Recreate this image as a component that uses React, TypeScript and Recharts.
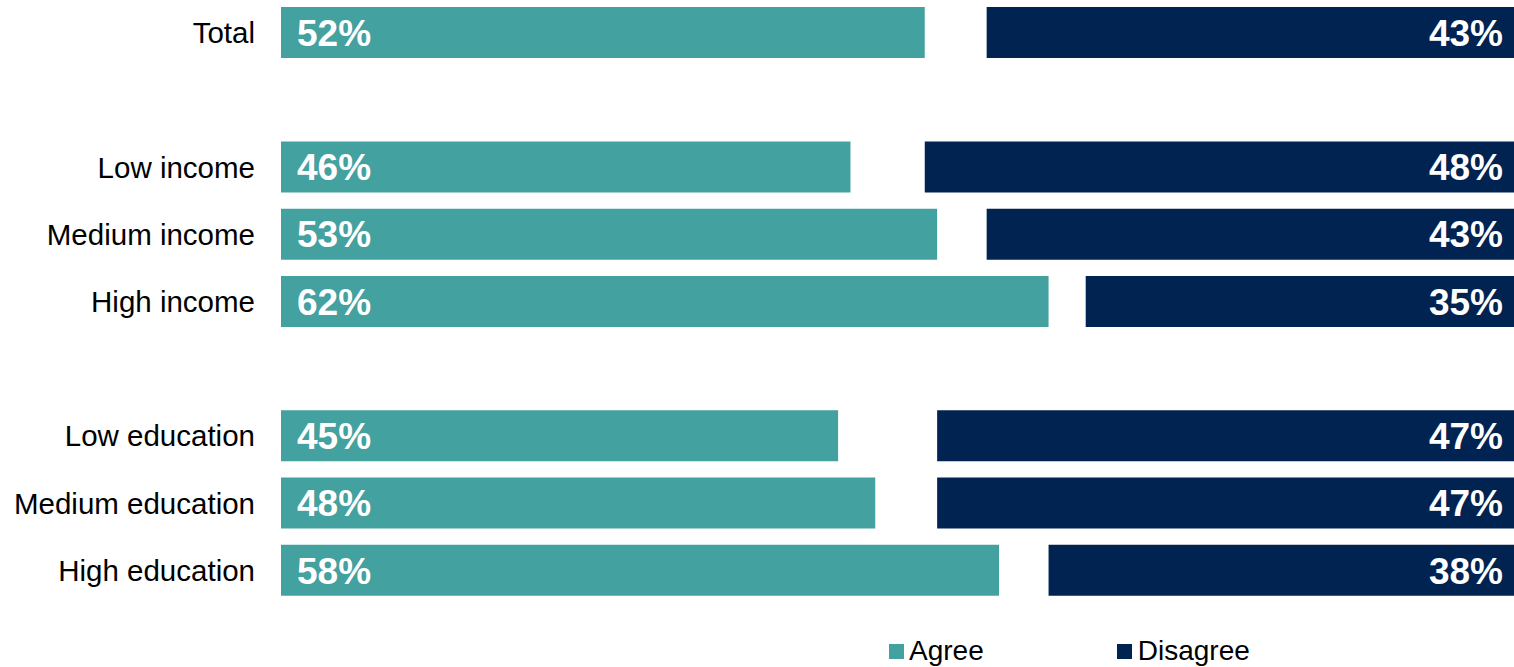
import React from 'react';
import { BarChart, Bar, XAxis, YAxis, LabelList } from 'recharts';

const categories = [
  'Total',
  '',
  'Low income',
  'Medium income',
  'High income',
  ' ',
  'Low education',
  'Medium education',
  'High education',
];
const agree = [52, null, 46, 53, 62, null, 45, 48, 58];
const disagree = [43, null, 48, 43, 35, null, 47, 47, 38];

const TEAL = '#43a1a0';
const NAVY = '#002352';

const data = categories.map((name, i) => {
  const a = agree[i];
  const d = disagree[i];
  return {
    name,
    agree: a,
    gap: a == null || d == null ? null : 100 - a - d,
    disagree: d,
  };
});

const AgreeLabel = (props: any) => {
  const { x, y, height, value } = props;
  if (value == null) return null;
  return (
    <text
      x={x + 16}
      y={y + height / 2}
      dy="0.36em"
      fill="#fff"
      fontSize={37}
      fontWeight="bold"
      textAnchor="start"
    >
      {value}%
    </text>
  );
};

const DisagreeLabel = (props: any) => {
  const { x, y, width, height, value } = props;
  if (value == null) return null;
  return (
    <text
      x={x + width - 16}
      y={y + height / 2}
      dy="0.36em"
      fill="#fff"
      fontSize={37}
      fontWeight="bold"
      textAnchor="end"
    >
      {value}%
    </text>
  );
};

export default function App() {
  return (
    <div
      style={{
        position: 'fixed',
        left: 0,
        top: 0,
        width: 1514,
        height: 667,
        overflow: 'hidden',
        background: '#fff',
        fontFamily: '"Liberation Sans", Arial, sans-serif',
      }}
    >
      <BarChart
        width={1530}
        height={667}
        data={data}
        layout="vertical"
        margin={{ top: -1, right: 11, bottom: 63, left: 0 }}
        barSize={51}
      >
        <XAxis type="number" domain={[0, 100]} hide />
        <YAxis
          type="category"
          dataKey="name"
          width={281}
          axisLine={false}
          tickLine={false}
          tickSize={0}
          tickMargin={26}
          interval={0}
          tick={{ fontSize: 29.5, fill: '#000' }}
        />
        <Bar dataKey="agree" stackId="a" fill={TEAL} isAnimationActive={false}>
          <LabelList dataKey="agree" content={<AgreeLabel />} />
        </Bar>
        <Bar dataKey="gap" stackId="a" fill="transparent" isAnimationActive={false} />
        <Bar dataKey="disagree" stackId="a" fill={NAVY} isAnimationActive={false}>
          <LabelList dataKey="disagree" content={<DisagreeLabel />} />
        </Bar>
      </BarChart>
      {/* legend */}
      <div
        style={{
          position: 'absolute',
          left: 889,
          top: 634,
          display: 'flex',
          alignItems: 'center',
          fontSize: 28,
          color: '#000',
          lineHeight: '34px',
        }}
      >
        <div style={{ display: 'flex', alignItems: 'center', marginRight: 133 }}>
          <span style={{ width: 15, height: 15, background: TEAL, marginRight: 5, display: 'inline-block' }} />
          <span>Agree</span>
        </div>
        <div style={{ display: 'flex', alignItems: 'center' }}>
          <span style={{ width: 15, height: 15, background: NAVY, marginRight: 6, display: 'inline-block' }} />
          <span>Disagree</span>
        </div>
      </div>
    </div>
  );
}
